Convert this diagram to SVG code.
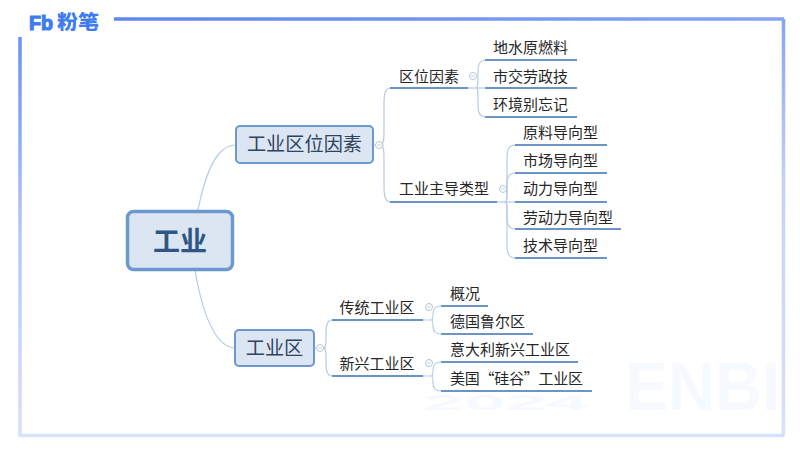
<svg xmlns="http://www.w3.org/2000/svg" width="800" height="450" viewBox="0 0 800 450">
<defs>
<linearGradient id="ft" gradientUnits="userSpaceOnUse" x1="114" y1="0" x2="784" y2="0">
<stop offset="0" stop-color="#5f86f5"/><stop offset="1" stop-color="#86a4f6"/>
</linearGradient>
<linearGradient id="fr" gradientUnits="userSpaceOnUse" x1="0" y1="19" x2="0" y2="436">
<stop offset="0" stop-color="#86a4f6"/><stop offset=".4" stop-color="#c3d2fa"/><stop offset="1" stop-color="#d6e1fb"/>
</linearGradient>
<linearGradient id="fl" gradientUnits="userSpaceOnUse" x1="0" y1="37" x2="0" y2="436">
<stop offset="0" stop-color="#6a8ff6"/><stop offset=".5" stop-color="#b5c8f9"/><stop offset="1" stop-color="#d6e1fb"/>
</linearGradient>
</defs>
<style>
text{font-family:"Noto Sans CJK SC","Liberation Sans",sans-serif;fill:#262626}
.l{font-size:15px}
.u{stroke:#6c94c6;stroke-width:2;fill:none}
.c{stroke:#b5cde4;stroke-width:1.2;fill:none}
.t{fill:none;stroke:#b9c6d3;stroke-width:1}
.m{stroke:#b9c6d3;stroke-width:.8}
.n{fill:#dce6f3;stroke:#6a98cf;stroke-width:2}
</style>
<rect width="800" height="450" fill="#fff"/>
<g id="frame" fill="none" stroke-width="3.500">
<path d="M114 19H784" stroke="url(#ft)"/>
<path d="M783.500 19V435.500" stroke="url(#fr)"/>
<path d="M20 435.500H784" stroke="#d6e1fb"/>
<path d="M20 37V437" stroke="url(#fl)"/>
</g>
<g id="logo">
<text x="29" y="29.500" style="font-family:'Liberation Sans',sans-serif;font-size:21px;font-weight:700;fill:#3f7cf0;stroke:#3f7cf0;stroke-width:1.200" textLength="24" lengthAdjust="spacingAndGlyphs">Fb</text>
<text x="57" y="28.500" style="font-size:19px;font-weight:900;fill:#3f7cf0" textLength="42" lengthAdjust="spacingAndGlyphs">粉笔</text>
</g>
<g id="watermark" style="opacity:.04">
<text x="423" y="410" style="font-family:'Liberation Sans',sans-serif;font-size:22px;font-weight:700;fill:#3f7cf0" textLength="165" lengthAdjust="spacingAndGlyphs">2024</text>
<text x="625" y="410" style="font-family:'Liberation Sans',sans-serif;font-size:68px;font-weight:700;fill:#3f7cf0" textLength="155" lengthAdjust="spacingAndGlyphs">ENBI</text>
</g>
<g id="connectors">
<path class="c" d="M198 210C204 180 214 146 235 145"/>
<path class="c" d="M195 270C201 305 212 345 234 348"/>
<path class="c" d="M373 145H384M379 145C384 145 384 140 384 130V104C384 94 385 88 391 88"/>
<path class="c" d="M379 145C384 145 384 150 384 160V186C384 196 385 202 391 202"/>
<path class="c" d="M468 88H486"/>
<path class="c" d="M476 88C478 88 478 84 478 78V70C478 64 480 60 486 60"/>
<path class="c" d="M476 88C478 88 478 92 478 98V107C478 113 480 117 486 117"/>
<path class="c" d="M497 202H515"/>
<path class="c" d="M505 202C507 202 507 198 507 190V157C507 150 509 145 515 145"/>
<path class="c" d="M505 202C507 202 507 198 507 190V184C507 177 509 173 515 173"/>
<path class="c" d="M505 202C507 202 507 206 507 212V218C507 225 509 229 515 229"/>
<path class="c" d="M505 202C507 202 507 206 507 212V246C507 253 509 258 515 258"/>
<path class="c" d="M314 348H326M322 348C326 348 326 344 326 338V332C326 325 327 320 332 320"/>
<path class="c" d="M322 348C326 348 326 352 326 358V364C326 371 327 376 332 376"/>
<path class="c" d="M423 320H433M431 320C433 320 433 318 433 315V314C433 309 436 306 441 306"/>
<path class="c" d="M431 320C433 320 433 322 433 325V326C433 331 436 334 441 334"/>
<path class="c" d="M423 376H433M431 376C433 376 433 374 433 371V370C433 365 436 362 441 362"/>
<path class="c" d="M431 376C433 376 433 378 433 381V383C433 388 436 391 441 391"/>
<path class="u" d="M390 88H468M390 202H497"/>
<path class="u" d="M485 60H577M485 88H577M485 117H577"/>
<path class="u" d="M515 145H607M515 173H607M515 202H607M515 229H621M515 258H607"/>
<path class="u" d="M332 320H423M332 376H423"/>
<path class="u" d="M441 306H488M441 334H533M441 362H578M441 391H592"/>
</g>
<g id="root"><rect class="n" x="127.500" y="211.500" width="105" height="58" rx="6" style="stroke-width:3.500"/><text x="180" y="251" text-anchor="middle" style="font-size:27px;font-weight:700;fill:#2e5684">工业</text></g>
<g id="n1"><rect class="n" x="236" y="126" width="137" height="37" rx="4"/><text x="304.500" y="151" text-anchor="middle" style="font-size:19.200px;fill:#2f4460">工业区位因素</text><circle class="t" cx="379" cy="145" r="3.500" style="fill:#fff"/><path class="m" d="M377 145H381"/></g>
<g id="n2"><rect class="n" x="235" y="330" width="79" height="36" rx="4"/><text x="274.500" y="355" text-anchor="middle" style="font-size:19.200px;fill:#2f4460">工业区</text><circle class="t" cx="320" cy="348" r="3.500" style="fill:#fff"/><path class="m" d="M318 348H322"/></g>
<g id="n3"><text class="l" x="429" y="82" text-anchor="middle">区位因素</text><circle class="t" cx="473" cy="76" r="3.500"/><path class="m" d="M471 76H475"/></g>
<g id="n4"><text class="l" x="444" y="194" text-anchor="middle">工业主导类型</text><circle class="t" cx="503" cy="189" r="3.500"/><path class="m" d="M501 189H505"/></g>
<g id="n5"><text class="l" x="377" y="313" text-anchor="middle">传统工业区</text><circle class="t" cx="429" cy="307" r="3.500"/><path class="m" d="M427 307H431"/></g>
<g id="n6"><text class="l" x="377" y="369" text-anchor="middle">新兴工业区</text><circle class="t" cx="429" cy="363" r="3.500"/><path class="m" d="M427 363H431"/></g>
<g id="n7"><text class="l" x="493" y="53">地水原燃料</text></g>
<g id="n8"><text class="l" x="493" y="82">市交劳政技</text></g>
<g id="n9"><text class="l" x="493" y="110">环境别忘记</text></g>
<g id="n10"><text class="l" x="523" y="138">原料导向型</text></g>
<g id="n11"><text class="l" x="523" y="166">市场导向型</text></g>
<g id="n12"><text class="l" x="523" y="194">动力导向型</text></g>
<g id="n13"><text class="l" x="523" y="223">劳动力导向型</text></g>
<g id="n14"><text class="l" x="523" y="251">技术导向型</text></g>
<g id="n15"><text class="l" x="450" y="299">概况</text></g>
<g id="n16"><text class="l" x="450" y="327">德国鲁尔区</text></g>
<g id="n17"><text class="l" x="450" y="355">意大利新兴工业区</text></g>
<g id="n18"><text class="l" x="450" y="384" textLength="133">美国“硅谷”工业区</text></g>
</svg>
